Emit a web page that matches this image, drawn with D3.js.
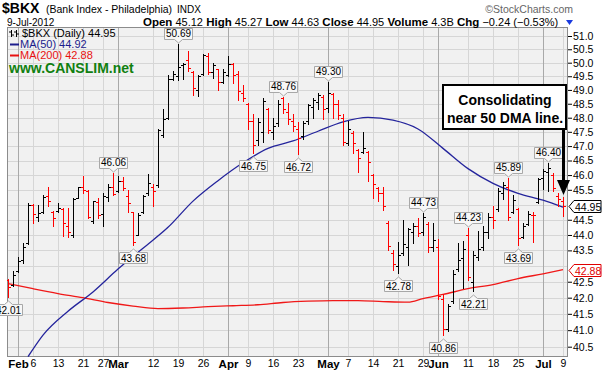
<!DOCTYPE html>
<html>
<head>
<meta charset="utf-8">
<script src="https://cdn.jsdelivr.net/npm/d3@7"></script>
<style>
  body { margin: 0; background: #fff; }
  svg { display: block; font-family: "Liberation Sans", Arial, sans-serif; }
  text { white-space: pre; }
</style>
</head>
<body>
<script>
// trading days shown (2012)
var dates = ["1/30","1/31",
  "2/1","2/2","2/3","2/6","2/7","2/8","2/9","2/10","2/13","2/14","2/15","2/16","2/17","2/21","2/22","2/23","2/24","2/27","2/28","2/29",
  "3/1","3/2","3/5","3/6","3/7","3/8","3/9","3/12","3/13","3/14","3/15","3/16","3/19","3/20","3/21","3/22","3/23","3/26","3/27","3/28","3/29","3/30",
  "4/2","4/3","4/4","4/5","4/9","4/10","4/11","4/12","4/13","4/16","4/17","4/18","4/19","4/20","4/23","4/24","4/25","4/26","4/27","4/30",
  "5/1","5/2","5/3","5/4","5/7","5/8","5/9","5/10","5/11","5/14","5/15","5/16","5/17","5/18","5/21","5/22","5/23","5/24","5/25","5/29","5/30","5/31",
  "6/1","6/4","6/5","6/6","6/7","6/8","6/11","6/12","6/13","6/14","6/15","6/18","6/19","6/20","6/21","6/22","6/25","6/26","6/27","6/28","6/29",
  "7/2","7/3","7/5","7/6","7/9"];

var opens = [42.55,42.40,
  42.85,43.20,43.75,45.00,44.60,44.75,45.30,44.75,44.78,44.85,44.30,44.00,45.22,45.60,45.45,44.45,45.10,44.70,45.25,45.60,
  45.45,45.80,45.30,44.75,44.00,44.75,45.40,45.60,45.65,47.40,48.00,49.40,49.50,49.90,50.10,49.65,49.00,49.60,50.25,49.65,49.75,49.30,
  49.55,49.95,49.60,48.90,48.50,47.90,47.20,47.50,48.30,47.50,47.80,48.70,48.20,47.90,47.60,47.35,47.90,48.40,48.55,48.75,
  48.35,48.85,48.50,48.00,47.10,47.45,46.85,46.80,46.80,46.00,45.55,45.40,44.40,43.40,43.00,43.40,43.60,44.10,44.30,44.10,44.35,43.60,
  43.60,41.95,41.05,41.90,42.90,43.25,44.00,42.50,43.30,43.60,44.10,44.60,44.85,45.40,45.60,44.75,44.85,43.95,44.35,44.65,45.10,
  45.90,46.10,46.00,45.30,45.12];
var highs = [42.59,42.85,
  43.30,43.75,45.07,45.03,45.00,45.31,45.60,44.80,45.07,44.90,44.88,45.21,45.61,45.97,45.48,45.14,45.21,45.38,45.68,46.06,
  45.97,45.95,45.50,44.77,44.71,45.31,46.02,45.71,47.59,48.30,49.55,49.70,50.69,50.00,50.44,49.70,49.55,50.33,50.36,50.00,49.78,49.78,
  50.25,50.00,49.70,49.19,48.54,48.12,48.00,48.72,48.36,48.00,48.65,48.76,48.54,48.12,47.84,47.88,48.50,48.72,48.87,48.83,
  49.30,48.90,48.65,48.12,47.88,47.52,46.90,47.49,46.83,46.05,45.61,45.61,44.47,43.50,43.76,44.48,44.22,44.38,44.55,44.73,44.44,44.38,
  43.87,42.10,41.80,42.88,43.73,43.80,44.23,43.47,44.12,44.28,44.71,44.97,45.55,45.78,45.89,45.34,44.90,44.38,44.80,44.77,45.91,
  46.22,46.40,46.06,45.38,45.27];
var lows = [42.01,42.38,
  42.80,43.10,43.70,44.38,44.46,44.71,44.97,44.28,44.75,43.96,43.93,43.93,45.21,45.38,44.55,44.38,44.55,44.28,45.14,45.31,
  45.41,45.50,44.77,43.68,43.99,44.71,45.31,44.97,45.61,47.32,47.97,49.35,49.37,49.40,49.70,48.83,48.77,49.55,49.60,49.44,49.00,49.26,
  49.52,49.26,48.65,48.61,47.59,46.75,47.03,47.14,47.45,47.25,47.70,48.16,47.77,47.52,46.72,47.25,47.77,48.00,48.30,47.94,
  48.20,48.00,47.94,47.03,47.03,46.77,46.10,46.77,45.81,45.21,45.14,44.81,43.50,42.87,42.78,43.36,43.04,43.73,43.96,43.99,43.44,43.48,
  41.97,40.86,40.97,41.83,42.85,42.31,42.56,42.21,43.18,43.50,43.90,44.22,44.78,45.20,44.50,44.71,43.69,43.90,44.32,43.78,45.04,
  45.54,45.47,45.47,44.97,44.63];
var closes = [42.33,42.70,
  43.15,43.60,45.00,44.70,44.74,45.25,45.13,44.55,44.90,44.40,44.10,45.18,45.60,45.50,44.60,45.12,44.65,45.30,45.60,45.35,
  45.80,45.55,45.04,43.78,44.65,45.30,45.72,45.45,47.55,47.95,49.40,49.60,49.85,49.95,49.80,49.08,49.50,50.30,49.65,49.90,49.30,49.65,
  49.95,49.55,48.95,48.70,47.90,47.05,47.85,48.60,47.55,47.70,48.50,48.30,47.95,47.70,47.30,47.80,48.45,48.65,48.80,48.30,
  48.90,48.50,48.10,47.15,47.60,47.10,46.60,46.95,46.45,45.70,45.40,44.95,43.65,43.05,43.35,43.70,44.20,44.30,44.05,44.60,43.60,43.85,
  42.05,41.05,41.75,42.75,43.20,43.55,42.65,43.35,43.55,44.10,44.60,44.50,45.45,45.65,44.60,45.15,43.90,44.30,44.70,44.65,45.85,
  46.15,46.25,45.55,45.19,44.95];

// moving averages
var ma50Dates = ["2/3","2/8","2/15","2/23","3/1","3/8","3/15","3/22","3/29","4/5","4/13","4/20","4/27","5/4","5/11","5/18","5/25","6/4","6/11","6/18","6/25","7/2","7/9"];
var ma50 = [40.20,40.85,41.58,42.18,42.90,43.57,44.25,45.12,45.81,46.42,46.92,47.18,47.52,47.85,48.01,47.91,47.60,46.92,46.22,45.72,45.38,45.15,44.92];
var ma200Dates = ["1/30","2/6","2/13","2/21","2/28","3/6","3/13","3/20","3/27","4/3","4/11","4/18","4/25","5/2","5/9","5/16","5/23","5/29","6/4","6/11","6/18","6/25","7/2","7/9"];
var ma200 = [42.44,42.28,42.13,42.00,41.85,41.74,41.66,41.68,41.72,41.75,41.78,41.85,41.89,41.91,41.91,41.88,41.86,41.97,42.10,42.28,42.41,42.60,42.75,42.88];

var tickDates = ["2/1","2/6","2/13","2/21","2/27","3/1","3/12","3/19","3/26","4/2","4/9","4/16","4/23","5/1","5/7","5/14","5/21","5/29","6/1","6/11","6/18","6/25","7/2","7/9"];
var tickLabels = ["Feb","6","13","21","27","Mar","12","19","26","Apr","9","16","23","May","7","14","21","29","Jun","11","18","25","Jul","9"];
var monthLabels = ["Feb","Mar","Apr","May","Jun","Jul"];
var priceTicks = [40.5,41.0,41.5,42.0,42.5,43.0,43.5,44.0,44.5,45.0,45.5,46.0,46.5,47.0,47.5,48.0,48.5,49.0,49.5,50.0,50.5,51.0];

var highMarks = ["2/29","3/19","4/18","5/1","5/29","6/11","6/21","7/3"];
var lowMarks = ["1/30","3/6","4/10","4/23","5/21","6/4","6/12","6/25"];

var width = 607, height = 374;
var plot = {left: 7, right: 568, top: 27, bottom: 357};

var svg = d3.select("body").append("svg")
    .attr("width", width)
    .attr("height", height);

var x = d3.scalePoint().domain(dates).range([8, 563]);
var y = d3.scaleLog().domain([40.5, 51]).range([346.7, 36]);
var fmt = d3.format(".2f");

var rows = dates.map(function(d, i) {
  var prev = i === 0 ? opens[i] : closes[i - 1];
  return {date: d, o: opens[i], h: highs[i], l: lows[i], c: closes[i], up: closes[i] >= prev};
});

svg.append("defs").append("clipPath").attr("id", "clip")
  .append("rect")
    .attr("x", plot.left).attr("y", plot.top)
    .attr("width", plot.right - plot.left).attr("height", plot.bottom - plot.top);

// plot background
svg.append("rect")
    .attr("x", plot.left).attr("y", plot.top)
    .attr("width", plot.right - plot.left).attr("height", plot.bottom - plot.top)
    .attr("fill", "#f1f1f1");

var grid = svg.append("g").attr("shape-rendering", "crispEdges");
grid.selectAll(".hg")
    .data(priceTicks)
  .enter().append("line")
    .attr("x1", plot.left).attr("x2", plot.right)
    .attr("y1", function(d) { return Math.round(y(d)) + 0.5; })
    .attr("y2", function(d) { return Math.round(y(d)) + 0.5; })
    .attr("stroke", "#d6d6d6");
grid.selectAll(".vg")
    .data(tickDates)
  .enter().append("line")
    .attr("x1", function(d) { return Math.round(x(d)) + 0.5; })
    .attr("x2", function(d) { return Math.round(x(d)) + 0.5; })
    .attr("y1", plot.top).attr("y2", plot.bottom)
    .attr("stroke", function(d, i) { return monthLabels.indexOf(tickLabels[i]) >= 0 ? "#a9a9a9" : "#d6d6d6"; });

// frame
svg.append("rect")
    .attr("x", plot.left + 0.5).attr("y", plot.top + 0.5)
    .attr("width", plot.right - plot.left - 1).attr("height", plot.bottom - plot.top - 1)
    .attr("fill", "none").attr("stroke", "#8c8c8c")
    .attr("shape-rendering", "crispEdges");

// axes
var yAxis = d3.axisRight(y)
    .tickValues(priceTicks)
    .tickFormat(d3.format(".1f"))
    .tickSize(4)
    .tickPadding(1);
var gy = svg.append("g")
    .attr("transform", "translate(" + plot.right + ",0)")
    .call(yAxis);
gy.select(".domain").remove();
gy.selectAll("text").attr("font-size", "10.5px").attr("fill", "#000").attr("font-family", null);
gy.selectAll("line").attr("stroke", "#000");

var xAxis = d3.axisBottom(x)
    .tickValues(tickDates)
    .tickFormat(function(d, i) { return tickLabels[i]; })
    .tickSize(0)
    .tickPadding(3);
var gx = svg.append("g")
    .attr("transform", "translate(0," + plot.bottom + ")")
    .call(xAxis);
gx.select(".domain").remove();
gx.selectAll("text")
    .attr("font-family", null)
    .attr("fill", "#000")
    .attr("font-size", function(d, i) { return monthLabels.indexOf(tickLabels[i]) >= 0 ? "11.5px" : "10.5px"; })
    .attr("font-weight", function(d, i) { return monthLabels.indexOf(tickLabels[i]) >= 0 ? "bold" : "normal"; });

// moving averages
var chart = svg.append("g").attr("clip-path", "url(#clip)");
var line = d3.line()
    .x(function(d) { return x(d.date); })
    .y(function(d) { return y(d.v); })
    .curve(d3.curveMonotoneX);
chart.append("path")
    .datum(ma200Dates.map(function(d, i) { return {date: d, v: ma200[i]}; }))
    .attr("d", line).attr("fill", "none").attr("stroke", "#f01818").attr("stroke-width", 1.3);
chart.append("path")
    .datum(ma50Dates.map(function(d, i) { return {date: d, v: ma50[i]}; }))
    .attr("d", line).attr("fill", "none").attr("stroke", "#24249c").attr("stroke-width", 1.3);

// OHLC bars
var bar = chart.selectAll(".bar")
    .data(rows)
  .enter().append("g")
    .attr("class", "bar")
    .attr("stroke", function(d) { return d.up ? "#000" : "#ff0000"; })
    .attr("shape-rendering", "crispEdges");
bar.append("line")
    .attr("x1", function(d) { return Math.round(x(d.date)) + 0.5; })
    .attr("x2", function(d) { return Math.round(x(d.date)) + 0.5; })
    .attr("y1", function(d) { return Math.round(y(d.h)); })
    .attr("y2", function(d) { return Math.round(y(d.l)) + 1; });
bar.append("line")
    .attr("x1", function(d) { return Math.round(x(d.date)) - 2; })
    .attr("x2", function(d) { return Math.round(x(d.date)); })
    .attr("y1", function(d) { return Math.round(y(d.o)) + 0.5; })
    .attr("y2", function(d) { return Math.round(y(d.o)) + 0.5; });
bar.append("line")
    .attr("x1", function(d) { return Math.round(x(d.date)) + 1; })
    .attr("x2", function(d) { return Math.round(x(d.date)) + 3; })
    .attr("y1", function(d) { return Math.round(y(d.c)) + 0.5; })
    .attr("y2", function(d) { return Math.round(y(d.c)) + 0.5; });

// high / low callouts
function callout(dateKey, isHigh) {
  var r = rows[dates.indexOf(dateKey)];
  var cx = Math.round(x(r.date)) + 0.5;
  var w = 14, h = 11, p;
  if (isHigh) {
    var yb = Math.round(y(r.h)) - 4.5;
    p = "M" + (cx - w) + "," + (yb - h) + "H" + (cx + w) + "V" + yb + "H" + (cx + 4) +
        "L" + cx + "," + (yb + 3.5) + "L" + (cx - 4) + "," + yb + "H" + (cx - w) + "Z";
  } else {
    var yt = Math.round(y(r.l)) + 7.5;
    p = "M" + (cx - w) + "," + yt + "H" + (cx - 4) + "L" + cx + "," + (yt - 3.5) + "L" + (cx + 4) + "," + yt +
        "H" + (cx + w) + "V" + (yt + h) + "H" + (cx - w) + "Z";
  }
  var g = svg.append("g");
  g.append("path").attr("d", p).attr("fill", "#f7f7f7").attr("stroke", "#a8a8a8");
  g.append("text")
      .attr("x", cx)
      .attr("y", isHigh ? Math.round(y(r.h)) - 7.5 : Math.round(y(r.l)) + 16.5)
      .attr("text-anchor", "middle")
      .attr("font-size", "10px")
      .text(fmt(isHigh ? r.h : r.l));
}
highMarks.forEach(function(d) { callout(d, true); });
lowMarks.forEach(function(d) { callout(d, false); });

// right-side value tags (they cover the axis label underneath, as in the original)
function tag(v, color) {
  var yv = Math.round(y(v)) + 0.5;
  gy.selectAll(".tick").filter(function(t) { return Math.abs(y(t) - yv) < 7; }).remove();
  svg.append("path")
      .attr("d", "M" + (plot.right + 1) + "," + yv + "L" + (plot.right + 6) + "," + (yv - 6) + "H601V" + (yv + 6) + "H" + (plot.right + 6) + "Z")
      .attr("fill", "#fff").attr("stroke", color);
  svg.append("text")
      .attr("x", plot.right + 7).attr("y", yv + 4)
      .attr("font-size", "10.5px").attr("fill", color)
      .text(fmt(v));
}
var last = rows[rows.length - 1];
tag(ma200[ma200.length - 1], "#e00000");
tag(last.c, "#000");

// legend
var lg = svg.append("g");
lg.append("path").attr("d", "M11.5,30V37M9,32H11.5M11.5,35H14M16.5,30V37M14,32H16.5M16.5,34H19")
    .attr("stroke", "#000").attr("fill", "none");
lg.append("text").attr("x", 22).attr("y", 37).attr("font-size", "11px")
    .text("$BKX (Daily) " + fmt(last.c));
lg.append("line").attr("x1", 10).attr("x2", 19).attr("y1", 44.5).attr("y2", 44.5)
    .attr("stroke", "#1c1c8c").attr("stroke-width", 2);
lg.append("text").attr("x", 20).attr("y", 48).attr("font-size", "11px").attr("fill", "#1c1c8c")
    .text("MA(50) " + fmt(ma50[ma50.length - 1]));
lg.append("line").attr("x1", 10).attr("x2", 19).attr("y1", 55.5).attr("y2", 55.5)
    .attr("stroke", "#e81010").attr("stroke-width", 2);
lg.append("text").attr("x", 20).attr("y", 59).attr("font-size", "11px").attr("fill", "#e81010")
    .text("MA(200) " + fmt(ma200[ma200.length - 1]));
lg.append("text").attr("x", 9).attr("y", 73).attr("font-size", "14px").attr("font-weight", "bold")
    .attr("fill", "#108010").text("www.CANSLIM.net");

// annotation
var ann = svg.append("g");
ann.append("rect").attr("x", 443).attr("y", 85).attr("width", 123).attr("height", 44)
    .attr("fill", "#fff").attr("stroke", "#000").attr("stroke-width", 2);
ann.append("text").attr("x", 505).attr("y", 105).attr("text-anchor", "middle")
    .attr("font-size", "14px").attr("font-weight", "bold").text("Consolidating");
ann.append("text").attr("x", 505).attr("y", 123).attr("text-anchor", "middle")
    .attr("font-size", "14px").attr("font-weight", "bold").text("near 50 DMA line.");
ann.append("line").attr("x1", 563.5).attr("x2", 563.5).attr("y1", 130).attr("y2", 183)
    .attr("stroke", "#000").attr("stroke-width", 3);
ann.append("path").attr("d", "M557,180H570L563.5,195Z").attr("fill", "#000");

// header
var prevClose = rows[rows.length - 2].c;
var chg = last.c - prevClose;
svg.append("text").attr("x", 2).attr("y", 13).attr("font-size", "14px").attr("font-weight", "bold").text("$BKX");
svg.append("text").attr("x", 46).attr("y", 13).attr("font-size", "10.5px").text("(Bank Index - Philadelphia)");
svg.append("text").attr("x", 177).attr("y", 13).attr("font-size", "10px").text("INDX");
svg.append("text").attr("x", 573).attr("y", 13).attr("text-anchor", "end").attr("font-size", "10.5px")
    .attr("fill", "#666").text("\u00a9StockCharts.com");
svg.append("text").attr("x", 7).attr("y", 25.5).attr("font-size", "10px").text("9-Jul-2012");

var info = svg.append("text").attr("x", 143).attr("y", 25.5).attr("font-size", "11px");
[["Open", fmt(last.o)], ["High", fmt(last.h)], ["Low", fmt(last.l)], ["Close", fmt(last.c)],
 ["Volume", "4.3B"], ["Chg", fmt(chg) + " (" + fmt(chg / prevClose * 100) + "%)"]].forEach(function(p, i) {
  info.append("tspan").attr("font-weight", "bold").attr("font-size", "11.5px").text((i ? " " : "") + p[0]);
  info.append("tspan").text(" " + p[1]);
});
svg.append("path").attr("d", "M566,20H573L569.5,25Z").attr("fill", "#1a3adf");
</script>
</body>
</html>
